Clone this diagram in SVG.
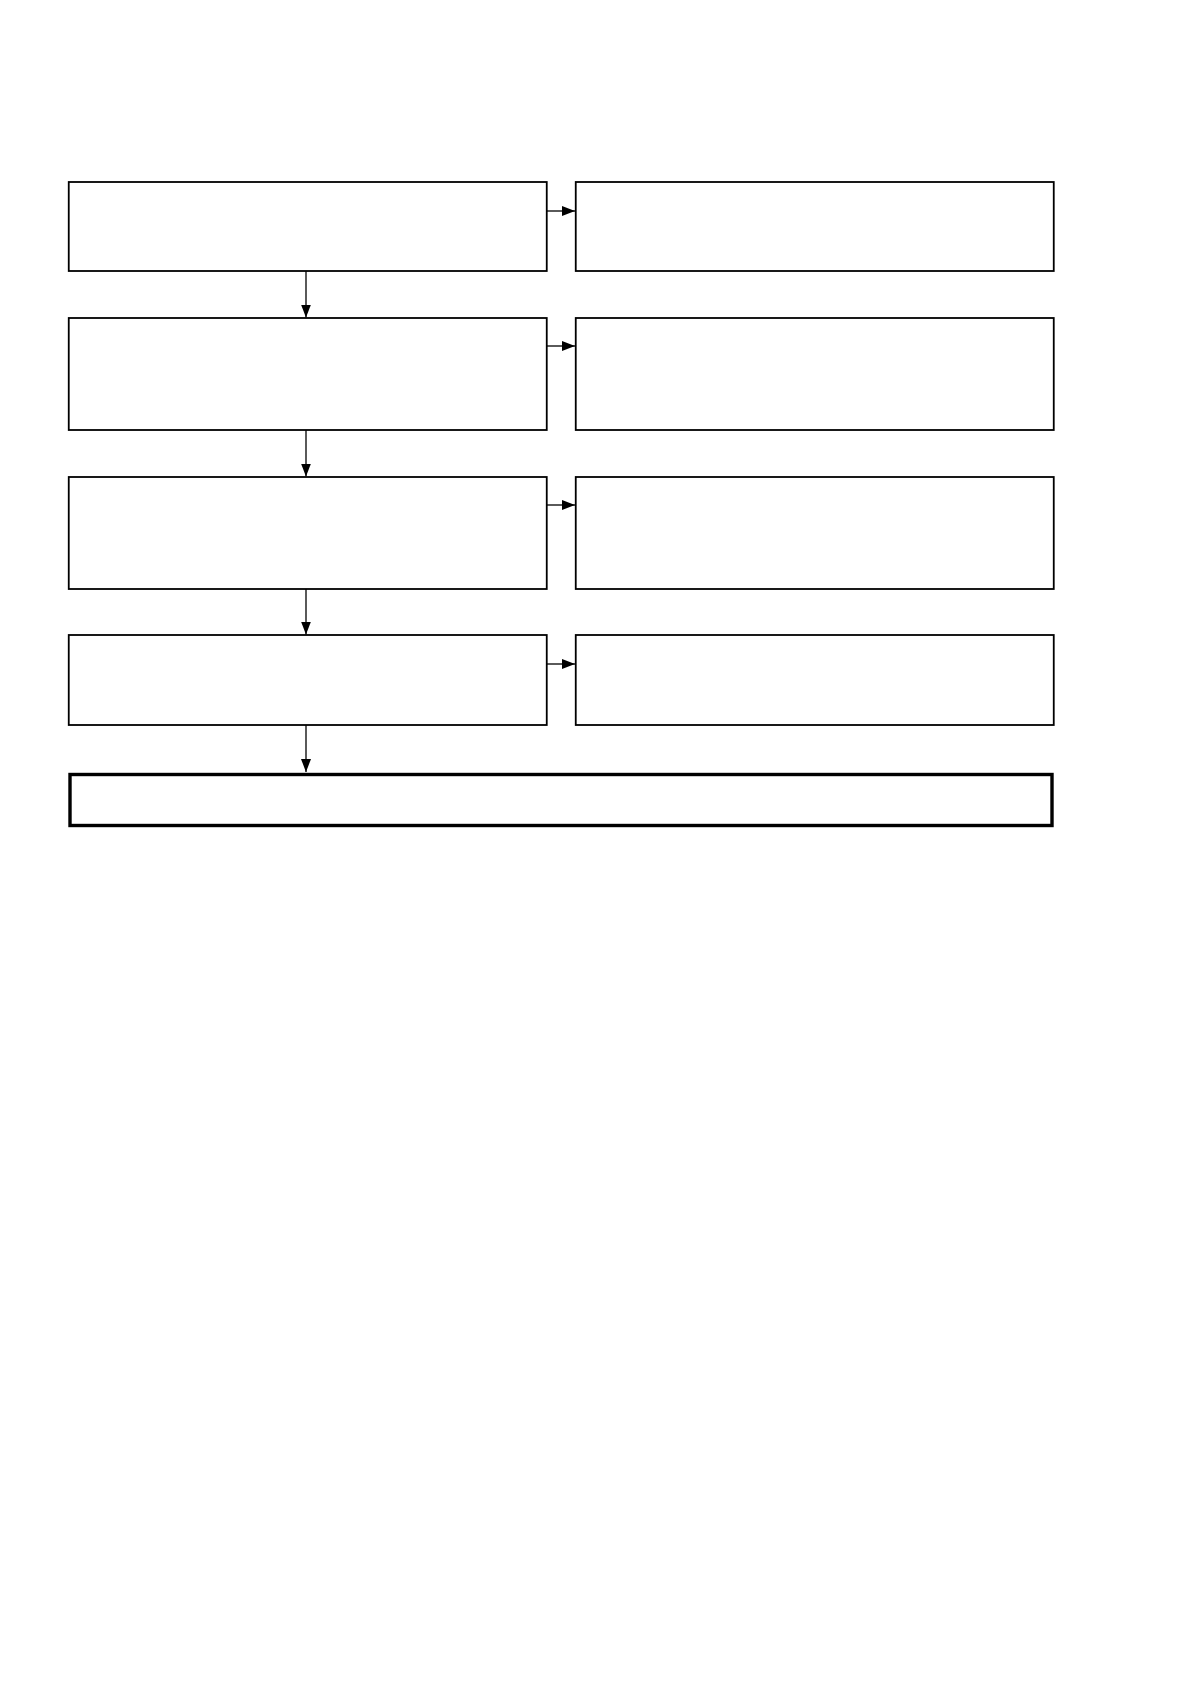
<svg xmlns="http://www.w3.org/2000/svg" width="1191" height="1684" viewBox="0 0 1191 1684">
<style>
.box{fill:#fff;stroke:#000;stroke-width:1.8}
.final{fill:#fff;stroke:#000;stroke-width:3.4}
.conn{stroke:#000;stroke-width:1.3;fill:none;marker-end:url(#ah)}
</style>
<defs>
<marker id="ah" viewBox="0 0 13 10" refX="13" refY="5" markerWidth="13" markerHeight="10" markerUnits="userSpaceOnUse" orient="auto">
<path d="M0,0 L13,5 L0,10 Z" fill="#000"/>
</marker>
</defs>
<rect width="1191" height="1684" fill="#fff"/>
<g id="connectors">
<line class="conn" x1="547" y1="211" x2="575" y2="211"/>
<line class="conn" x1="547" y1="346" x2="575" y2="346"/>
<line class="conn" x1="547" y1="505" x2="575" y2="505"/>
<line class="conn" x1="547" y1="664" x2="575" y2="664"/>
<line class="conn" x1="306" y1="271" x2="306" y2="317.5"/>
<line class="conn" x1="306" y1="430" x2="306" y2="476.5"/>
<line class="conn" x1="306" y1="589" x2="306" y2="634.5"/>
<line class="conn" x1="306" y1="725" x2="306" y2="772"/>
</g>
<g id="n1"><rect class="box" x="68.75" y="182" width="478" height="89"/></g>
<g id="n1r"><rect class="box" x="575.75" y="182" width="478" height="89"/></g>
<g id="n2"><rect class="box" x="68.75" y="318" width="478" height="112"/></g>
<g id="n2r"><rect class="box" x="575.75" y="318" width="478" height="112"/></g>
<g id="n3"><rect class="box" x="68.75" y="477" width="478" height="112"/></g>
<g id="n3r"><rect class="box" x="575.75" y="477" width="478" height="112"/></g>
<g id="n4"><rect class="box" x="68.75" y="635" width="478" height="90"/></g>
<g id="n4r"><rect class="box" x="575.75" y="635" width="478" height="90"/></g>
<g id="n5"><rect class="final" x="70" y="774.5" width="982" height="51"/></g>
</svg>
